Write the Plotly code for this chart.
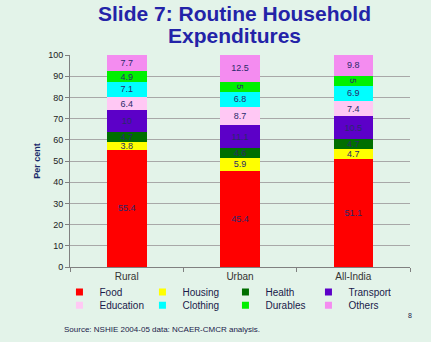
import plotly.graph_objects as go

regions = ["Rural", "Urban", "All-India"]
categories = ["Food", "Housing", "Health", "Transport", "Education", "Clothing", "Durables", "Others"]
values = {
    "Food": [55.4, 45.4, 51.1],
    "Housing": [3.8, 5.9, 4.7],
    "Health": [4.7, 4.6, 4.7],
    "Transport": [10, 11.1, 10.5],
    "Education": [6.4, 8.7, 7.4],
    "Clothing": [7.1, 6.8, 6.9],
    "Durables": [4.9, 5, 5],
    "Others": [7.7, 12.5, 9.8],
}
colors = {
    "Food": "#ff0000",
    "Housing": "#ffff00",
    "Health": "#006e00",
    "Transport": "#5c00c8",
    "Education": "#ffc8f4",
    "Clothing": "#00ffff",
    "Durables": "#00f000",
    "Others": "#f48cf0",
}
y_ticks = [0, 10, 20, 30, 40, 50, 60, 70, 80, 90, 100]

fig = go.Figure()
for i, c in enumerate(categories):
    fig.add_trace(go.Bar(
        x=regions, y=values[c], name=c,
        marker=dict(color=colors[c], line=dict(width=0)),
        text=[str(v) for v in values[c]],
        textposition="inside", insidetextanchor="middle",
        textfont=dict(family="Liberation Sans, Arial", size=9, color="#2a2a6a"),
        showlegend=False, legendgroup=c,
    ))
# legend entries with small square swatches (same series, same colours)
for i, c in enumerate(categories):
    fig.add_trace(go.Scatter(
        x=[None], y=[None], mode="markers", name=c, legendgroup=c,
        marker=dict(symbol="square", size=7, color=colors[c]),
        legend="legend" if i < 4 else "legend2", hoverinfo="skip",
    ))

bg = "#e3f3e9"
legend_common = dict(
    orientation="h", font=dict(family="Liberation Sans, Arial", size=10, color="#1a1a4a"),
    bgcolor="rgba(0,0,0,0)", entrywidth=38, entrywidthmode="pixels",
    itemwidth=30, xanchor="left", yanchor="middle", traceorder="normal",
)
fig.update_layout(
    width=431, height=342,
    margin=dict(l=70, r=21, t=55, b=75),
    paper_bgcolor=bg, plot_bgcolor=bg,
    barmode="stack", bargap=0.65,
    showlegend=True,
    uniformtext=dict(mode="show", minsize=9),
    font=dict(family="Liberation Sans, Arial", color="#222222"),
    legend=dict(x=-0.031, y=-0.118, **legend_common),
    legend2=dict(x=-0.031, y=-0.18, **legend_common),
    xaxis=dict(
        showgrid=False, showline=True, linecolor="#808080", linewidth=1,
        ticks="outside", tickson="boundaries", ticklen=4, tickcolor="#808080",
        tickfont=dict(size=10, color="#333333"),
    ),
    yaxis=dict(
        range=[0, 100], tickvals=y_ticks, showgrid=True, gridcolor="#a8a8a8", gridwidth=1,
        showline=True, linecolor="#808080", linewidth=1,
        ticks="outside", ticklen=4, tickcolor="#808080",
        tickfont=dict(size=9, color="#222222"),
        title=dict(text="<b>Per cent</b>", font=dict(size=9, color="#1a2a6a"), standoff=6),
        zeroline=False,
    ),
    annotations=[
        dict(text="<b>Slide 7: Routine Household</b>", xref="paper", yref="paper",
             x=0.485, y=1.198, xanchor="center", yanchor="middle", showarrow=False,
             font=dict(size=21, color="#2323a8", family="Liberation Sans, Arial")),
        dict(text="<b>Expenditures</b>", xref="paper", yref="paper",
             x=0.485, y=1.09, xanchor="center", yanchor="middle", showarrow=False,
             font=dict(size=21, color="#2323a8", family="Liberation Sans, Arial")),
        dict(text="Source: NSHIE 2004-05 data: NCAER-CMCR analysis.", xref="paper", yref="paper",
             x=-0.024, y=-0.295, xanchor="left", yanchor="middle", showarrow=False,
             font=dict(size=8, color="#1a1a4a", family="Liberation Sans, Arial")),
        dict(text="8", xref="paper", yref="paper",
             x=1.0, y=-0.23, xanchor="center", yanchor="middle", showarrow=False,
             font=dict(size=7, color="#1a1a4a", family="Liberation Sans, Arial")),
    ],
)
fig.write_html("out.html")
